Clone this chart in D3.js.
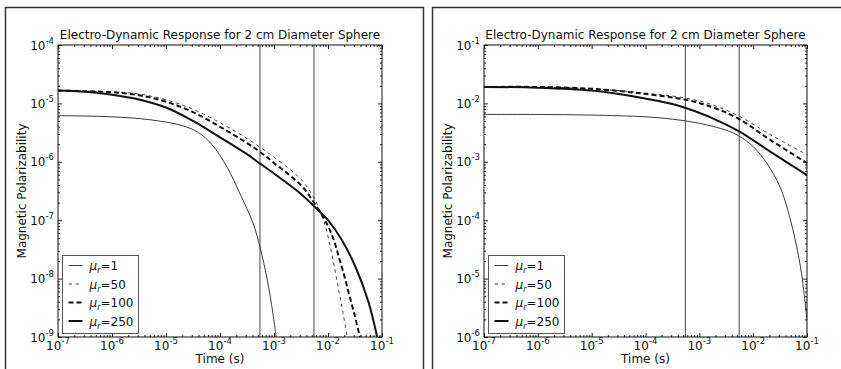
<!DOCTYPE html>
<html>
<head>
<meta charset="utf-8">
<script src="https://cdn.jsdelivr.net/npm/d3@7"></script>
<style>
  body { margin: 0; background: #fff; }
  svg { display: block; font-family: "DejaVu Sans", sans-serif; }
</style>
</head>
<body>
<svg id="chart" width="841" height="369"></svg>
<script>
// ---- data ----
const timeDecades = [1e-7, 1e-6, 1e-5, 1e-4, 1e-3, 1e-2, 1e-1];
const markerTimes = [5.5e-4, 5.5e-3];
const muLabels = ["1", "50", "100", "250"];
const titleText = "Electro-Dynamic Response for 2 cm Diameter Sphere";

// left panel: [time (s), polarizability]
const leftMu1 = [[1e-7, 6.17e-6], [1e-6, 5.89e-6], [5e-6, 5.25e-6], [2e-5, 4.17e-6], [4e-5, 3.16e-6],
  [7e-5, 2.0e-6], [1.35e-4, 8.13e-7], [2.35e-4, 2.82e-7], [4.1e-4, 8.91e-8], [5.5e-4, 3.47e-8],
  [7.4e-4, 1.02e-8], [9e-4, 3.63e-9], [1.1e-3, 1e-9]];
const leftMu50 = [[1e-7, 1.66e-5], [3.16e-7, 1.62e-5], [1e-6, 1.58e-5], [3.16e-6, 1.45e-5], [1e-5, 1.15e-5],
  [3.16e-5, 7.94e-6], [1e-4, 4.68e-6], [3.16e-4, 2.51e-6], [5.5e-4, 1.78e-6], [1e-3, 1.20e-6],
  [3.16e-3, 5.01e-7], [5.5e-3, 2.40e-7], [7.94e-3, 1.12e-7], [1e-2, 5.25e-8], [1.26e-2, 1.91e-8],
  [1.58e-2, 6.31e-9], [1.91e-2, 2.51e-9], [2.26e-2, 1e-9]];
const leftMu100 = [[1e-7, 1.66e-5], [3.16e-7, 1.62e-5], [1e-6, 1.55e-5], [3.16e-6, 1.38e-5], [1e-5, 1.07e-5],
  [3.16e-5, 7.08e-6], [1e-4, 3.98e-6], [3.16e-4, 2.09e-6], [5.5e-4, 1.48e-6], [1e-3, 9.55e-7],
  [3.16e-3, 3.98e-7], [5.5e-3, 2.0e-7], [1e-2, 7.94e-8], [1.26e-2, 4.79e-8], [1.58e-2, 2.40e-8],
  [2.0e-2, 1.12e-8], [2.51e-2, 5.01e-9], [3.16e-2, 2.24e-9], [3.9e-2, 1e-9]];
const leftMu250 = [[1e-7, 1.66e-5], [3.16e-7, 1.58e-5], [1e-6, 1.41e-5], [3.16e-6, 1.17e-5], [1e-5, 8.51e-6],
  [3.16e-5, 5.01e-6], [1e-4, 2.63e-6], [3.16e-4, 1.35e-6], [5.5e-4, 9.33e-7], [1e-3, 6.31e-7],
  [3.16e-3, 2.82e-7], [5.5e-3, 1.74e-7], [1e-2, 1e-7], [1.78e-2, 4.68e-8], [3.16e-2, 1.66e-8],
  [5.62e-2, 3.98e-9], [8.13e-2, 1e-9]];

// right panel
const rightMu1 = [[1e-7, 6.46e-3], [1e-6, 6.46e-3], [1e-5, 6.31e-3], [1e-4, 5.89e-3], [3.16e-4, 5.37e-3],
  [1e-3, 4.57e-3], [3.16e-3, 3.47e-3], [5.5e-3, 2.75e-3], [1e-2, 1.82e-3], [1.78e-2, 9.55e-4],
  [3.16e-2, 3.72e-4], [4.79e-2, 1.12e-4], [6.31e-2, 3.80e-5], [7.94e-2, 1.20e-5], [1e-1, 1.95e-6]];
const rightMu50 = [[1e-7, 1.91e-2], [1e-6, 1.91e-2], [1e-5, 1.78e-2], [6.92e-5, 1.55e-2], [5.62e-4, 1.23e-2],
  [1.82e-3, 9.33e-3], [5.5e-3, 6.03e-3], [2.04e-2, 2.95e-3], [1e-1, 1.32e-3]];
const rightMu100 = [[1e-7, 1.91e-2], [1e-6, 1.91e-2], [1e-5, 1.78e-2], [6.92e-5, 1.51e-2], [5.62e-4, 1.15e-2],
  [1.82e-3, 8.51e-3], [5.5e-3, 5.37e-3], [2.04e-2, 2.40e-3], [1e-1, 9.55e-4]];
const rightMu250 = [[1e-7, 1.91e-2], [1e-6, 1.86e-2], [1e-5, 1.66e-2], [6.92e-5, 1.29e-2], [3.16e-4, 9.77e-3],
  [5.62e-4, 8.32e-3], [1.82e-3, 5.50e-3], [5.5e-3, 3.31e-3], [2.04e-2, 1.51e-3], [1e-1, 5.89e-4]];

// ---- styles ----
const lineStyles = [
  { width: 1, dash: null, color: "#3a3a3a" },
  { width: 1, dash: "3.5,3.5", color: "#444" },
  { width: 2, dash: "5,3", color: "#111" },
  { width: 2, dash: null, color: "#111" }
];

const svg = d3.select("#chart");

// panel frames
svg.append("rect").attr("x", 5.5).attr("y", 7.5).attr("width", 418).attr("height", 400)
  .attr("fill", "none").attr("stroke", "#333").attr("stroke-width", 1.5);
svg.append("rect").attr("x", 432.5).attr("y", 7.5).attr("width", 440).attr("height", 400)
  .attr("fill", "none").attr("stroke", "#333").attr("stroke-width", 1.5);

function minorTicks(lo, hi) {
  const out = [];
  for (let e = lo; e < hi; e++) {
    for (let k = 2; k <= 9; k++) out.push(k * Math.pow(10, e));
  }
  return out;
}

function expLabel(sel, v) {
  const e = Math.round(Math.log10(v));
  sel.text("10");
  sel.append("tspan").attr("dy", -6).attr("font-size", 8.5).text(e);
}

function styleAxis(a) {
  a.select(".domain").remove();
  a.selectAll(".tick text").remove();
  a.selectAll(".tick line").attr("stroke", "#222");
}

function drawPanel(opt) {
  const x = d3.scaleLog().domain([1e-7, 1e-1]).range([opt.left, opt.right]);
  const y = d3.scaleLog().domain(opt.yDomain).range([337, 45]);
  const g = svg.append("g");
  const yDecades = d3.range(Math.log10(opt.yDomain[0]), Math.log10(opt.yDomain[1]) + 1).map(e => Math.pow(10, e));
  const yMinor = minorTicks(Math.log10(opt.yDomain[0]), Math.log10(opt.yDomain[1]));
  const xMinor = minorTicks(-7, -1);

  const clipId = "clip" + opt.id;
  g.append("clipPath").attr("id", clipId).append("rect")
    .attr("x", opt.left).attr("y", 45).attr("width", opt.right - opt.left).attr("height", 292);

  // marker lines
  g.selectAll(".marker").data(markerTimes).join("line")
    .attr("x1", d => x(d)).attr("x2", d => x(d))
    .attr("y1", 45).attr("y2", 337)
    .attr("stroke", "#444").attr("stroke-width", 1);

  // curves
  const line = d3.line().x(d => x(d[0])).y(d => y(d[1])).curve(d3.curveCatmullRom.alpha(0.5));
  g.append("g").attr("clip-path", `url(#${clipId})`)
    .selectAll("path").data(opt.series).join("path")
    .attr("d", line)
    .attr("fill", "none")
    .attr("stroke", (d, i) => lineStyles[i].color)
    .attr("stroke-width", (d, i) => lineStyles[i].width)
    .attr("stroke-dasharray", (d, i) => lineStyles[i].dash);

  // axes, ticks inward on all four sides
  const axes = [
    [d3.axisBottom, `translate(0,337)`, x, timeDecades, xMinor],
    [d3.axisTop, `translate(0,45)`, x, timeDecades, xMinor],
    [d3.axisLeft, `translate(${opt.left},0)`, y, yDecades, yMinor],
    [d3.axisRight, `translate(${opt.right},0)`, y, yDecades, yMinor]
  ];
  axes.forEach(([fn, tr, sc, major, minor]) => {
    g.append("g").attr("transform", tr).call(fn(sc).tickValues(minor).tickSize(-2)).call(styleAxis);
    g.append("g").attr("transform", tr).call(fn(sc).tickValues(major).tickSize(-4)).call(styleAxis);
  });

  g.append("rect").attr("x", opt.left).attr("y", 45)
    .attr("width", opt.right - opt.left).attr("height", 292)
    .attr("fill", "none").attr("stroke", "#111").attr("stroke-width", 1);

  // tick labels
  g.selectAll(".xlab").data(timeDecades).join("text")
    .attr("x", d => x(d)).attr("y", 350)
    .attr("text-anchor", "middle").attr("font-size", 12).attr("fill", "#111")
    .each(function (d) { expLabel(d3.select(this), d); });
  g.selectAll(".ylab").data(yDecades).join("text")
    .attr("x", opt.left - 4).attr("y", d => y(d) + 4.5)
    .attr("text-anchor", "end").attr("font-size", 12).attr("fill", "#111")
    .each(function (d) { expLabel(d3.select(this), d); });

  // title and axis labels
  g.append("text").attr("x", (opt.left + opt.right) / 2).attr("y", 39)
    .attr("text-anchor", "middle").attr("font-size", 12).attr("fill", "#111").text(titleText);
  g.append("text").attr("x", (opt.left + opt.right) / 2).attr("y", 363)
    .attr("text-anchor", "middle").attr("font-size", 12).attr("fill", "#111").text("Time (s)");
  g.append("text").attr("transform", `translate(${opt.left - 32},191) rotate(-90)`)
    .attr("text-anchor", "middle").attr("font-size", 12).attr("fill", "#111").text("Magnetic Polarizability");

  // legend
  const lg = g.append("g").attr("transform", `translate(${opt.left + 4.5},255.5)`);
  lg.append("rect").attr("width", 76).attr("height", 78)
    .attr("fill", "#fff").attr("stroke", "#555").attr("stroke-width", 1);
  const rows = lg.selectAll(".row").data(muLabels).join("g")
    .attr("transform", (d, i) => `translate(0,${10 + i * 18.5})`);
  rows.append("line").attr("x1", 6).attr("x2", 20)
    .attr("stroke", (d, i) => lineStyles[i].color)
    .attr("stroke-width", (d, i) => lineStyles[i].width)
    .attr("stroke-dasharray", (d, i) => lineStyles[i].dash);
  const t = rows.append("text").attr("x", 27).attr("y", 4.5)
    .attr("font-size", 12).attr("fill", "#111");
  t.append("tspan").attr("font-style", "italic").text("μ");
  t.append("tspan").attr("font-style", "italic").attr("font-size", 8).attr("dy", 3).text("r");
  t.append("tspan").attr("dy", -3).text(d => "=" + d);
}

drawPanel({ id: "L", left: 58, right: 382, yDomain: [1e-9, 1e-4],
  series: [leftMu1, leftMu50, leftMu100, leftMu250] });
drawPanel({ id: "R", left: 484, right: 807, yDomain: [1e-6, 1e-1],
  series: [rightMu1, rightMu50, rightMu100, rightMu250] });
</script>
</body>
</html>
